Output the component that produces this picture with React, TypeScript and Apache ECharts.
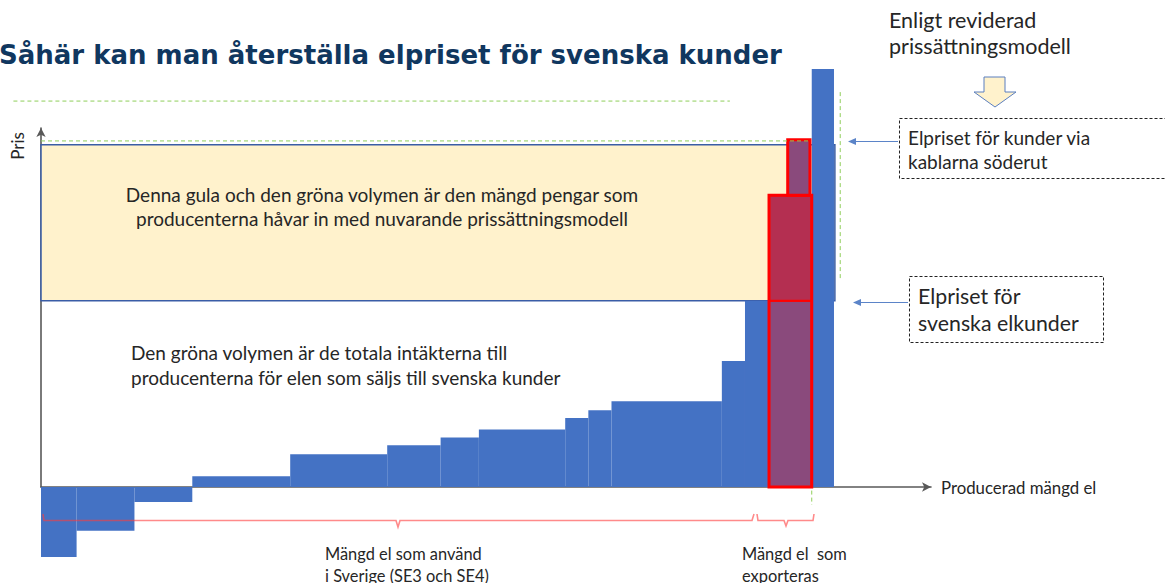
import React, { useEffect, useRef } from "react";
import * as echarts from "echarts";

// Merit-order steps (x range in volume units, price level)
const stepStart = [0, 4.0, 10.5, 17.0, 28.0, 38.9, 44.9, 49.2, 58.9, 61.5, 64.1, 76.5, 79.1];
const stepEnd = [4.0, 10.5, 17.0, 28.0, 38.9, 44.9, 49.2, 58.9, 61.5, 64.1, 76.5, 79.1, 81.8];
const stepPrice = [-19.5, -12.2, -4.2, 3.0, 9.1, 11.6, 13.8, 16.0, 19.2, 21.4, 23.9, 35.1, 51.9];

const exportRange = [81.8, 86.6];
const domesticPrice = 51.9;
const exportPrice = 81.3;
const cableRange = [83.9, 86.4];
const cablePrice = 96.7;
const peakRange = [86.6, 89.1];
const peakPrice = 116.4;
const currentModelRange = [0, 89.2];
const currentModelPrice = 95.3;

// guide lines [x0, y0, x1, y1]
const guideTop = [-3.1, 107.5, 77.4, 107.5];
const guideCable = [0, 96.4, 86.5, 96.4];
const guideVertical = [89.8, 110, 89.8, 57.9];
const guideExportEnd = [86.6, -1, 86.6, -5];

const BLUE = "#4472c4";
const RED = "#ff0000";
const TEXT = "#262626";
const FONT = "Lato";

export default function App() {
  const ref = useRef<HTMLDivElement>(null);

  useEffect(() => {
    if (!ref.current) return;
    const chart = echarts.init(ref.current, null, { renderer: "svg" });

    const styles: any[] = [
      { fill: "#fff2cc", stroke: "#3a5da6", lineWidth: 1.5 },
      { fill: BLUE },
      { fill: "#8a4a7c", stroke: RED, lineWidth: 2 },
      { fill: "#b42f51", stroke: RED, lineWidth: 2 },
      { fill: "none", stroke: RED, lineWidth: 3 },
      { fill: "#8a4a7c", stroke: RED, lineWidth: 3 },
    ];

    const rects: number[][] = [];
    rects.push([currentModelRange[0], currentModelRange[1], domesticPrice, currentModelPrice, 0]);
    for (let i = 0; i < stepStart.length; i++) {
      rects.push([stepStart[i], stepEnd[i], Math.min(0, stepPrice[i]), Math.max(0, stepPrice[i]), 1]);
    }
    rects.push([peakRange[0], peakRange[1], 0, peakPrice, 1]);
    rects.push([exportRange[0], exportRange[1], 0, domesticPrice, 2]);
    rects.push([exportRange[0], exportRange[1], domesticPrice, exportPrice, 3]);
    rects.push([exportRange[0], exportRange[1], 0, exportPrice, 4]);
    rects.push([cableRange[0], cableRange[1], exportPrice, cablePrice, 5]);

    const guides = [guideTop, guideCable, guideVertical, guideExportEnd];

    const Z = 50;

    const txt = (x: number, y: number, text: string, size: number, extra: any = {}) => ({
      type: "text",
      x,
      y,
      z: Z,
      silent: true,
      style: {
        text,
        fill: TEXT,
        font: `${size}px ${FONT}`,
        textAlign: "left",
        textVerticalAlign: "middle",
        align: "left",
        verticalAlign: "middle",
        lineHeight: extra.lineHeight || size * 1.4,
        ...extra.style,
      },
    });

    const arrowLeft = (x0: number, x1: number, y: number) => [
      { type: "line", z: Z, silent: true, shape: { x1: x0, y1: y, x2: x1 + 7, y2: y }, style: { stroke: "#5b84c8", lineWidth: 1.2 } },
      {
        type: "polygon",
        z: Z,
        silent: true,
        shape: { points: [[x1, y], [x1 + 8, y - 3.5], [x1 + 8, y + 3.5]] },
        style: { fill: "#5b84c8" },
      },
    ];

    const graphic: any[] = [
      {
        type: "text",
        x: -1,
        y: 55,
        z: Z,
        silent: true,
        style: {
          text: "Såhär kan man återställa elpriset för svenska kunder",
          fill: "#10375f",
          font: 'bold 26px "DejaVu Sans"',
          textVerticalAlign: "middle",
          verticalAlign: "middle",
        },
      },
      {
        type: "text",
        x: 17,
        y: 146,
        z: Z,
        rotation: Math.PI / 2,
        silent: true,
        style: {
          text: "Pris",
          fill: TEXT,
          font: `17px ${FONT}`,
          textAlign: "center",
          align: "center",
          textVerticalAlign: "middle",
          verticalAlign: "middle",
        },
      },
      txt(382, 206, "Denna gula och den gröna volymen är den mängd pengar som\nproducenterna håvar in med nuvarande prissättningsmodell", 19, {
        lineHeight: 24,
        style: { textAlign: "center", align: "center" },
      }),
      txt(131, 365, "Den gröna volymen är de totala intäkterna till\nproducenterna för elen som säljs till svenska kunder", 19, {
        lineHeight: 25,
      }),
      txt(889, 33, "Enligt reviderad\nprissättningsmodell", 21.5, { lineHeight: 26 }),
      {
        type: "polygon",
        z: Z,
        silent: true,
        shape: {
          points: [[984, 77], [1005, 77], [1005, 92], [1016, 92], [995, 107], [974, 92], [984, 92]],
        },
        style: { fill: "#fff2cc", stroke: "#5b7fbf", lineWidth: 1 },
      },
      {
        type: "rect",
        z: Z,
        silent: true,
        shape: { x: 899.5, y: 118.5, width: 275, height: 60 },
        style: { fill: "none", stroke: "#222", lineWidth: 1, lineDash: [3, 2] },
      },
      txt(908, 149, "Elpriset för kunder via\nkablarna söderut", 19, { lineHeight: 24 }),
      ...arrowLeft(898, 848, 141.5),
      {
        type: "rect",
        z: Z,
        silent: true,
        shape: { x: 909.5, y: 276.5, width: 194, height: 66 },
        style: { fill: "none", stroke: "#222", lineWidth: 1, lineDash: [3, 2] },
      },
      txt(918, 309, "Elpriset för\nsvenska elkunder", 21.3, { lineHeight: 27 }),
      ...arrowLeft(908, 853, 302.5),
      txt(941, 487, "Producerad mängd el", 16.8),
      txt(325, 564, "Mängd el som använd\ni Sverige (SE3 och SE4)", 16.4, { lineHeight: 22 }),
      txt(742, 564, "Mängd el  som\nexporteras", 16.4, { lineHeight: 22 }),
      {
        type: "polyline",
        z: Z,
        silent: true,
        shape: {
          points: [[43, 514], [44, 520.5], [396, 520.5], [398, 527], [400, 520.5], [752, 520.5], [754, 514]],
        },
        style: { stroke: "rgba(255,60,60,0.6)", lineWidth: 1.6, fill: "none" },
      },
      {
        type: "polyline",
        z: Z,
        silent: true,
        shape: {
          points: [[757, 514], [758, 520.5], [784, 520.5], [786, 526], [788, 520.5], [813, 520.5], [814, 514]],
        },
        style: { stroke: "rgba(255,60,60,0.6)", lineWidth: 1.6, fill: "none" },
      },
    ];

    const axisLine = {
      show: true,
      symbol: ["none", "arrow"],
      symbolSize: [7, 9],
      lineStyle: { color: "#595959", width: 1.6 },
    };

    chart.setOption({
      animation: false,
      grid: { left: 41, right: 234, top: 128, bottom: 96 },
      xAxis: {
        type: "value",
        min: 0,
        max: 100,
        axisLine,
        axisTick: { show: false },
        axisLabel: { show: false },
        splitLine: { show: false },
      },
      yAxis: {
        type: "value",
        min: 0,
        max: 100,
        axisLine,
        axisTick: { show: false },
        axisLabel: { show: false },
        splitLine: { show: false },
      },
      series: [
        {
          type: "custom",
          clip: false,
          data: rects,
          renderItem: (params: any, api: any) => {
            const x0 = api.value(0);
            const x1 = api.value(1);
            const y0 = api.value(2);
            const y1 = api.value(3);
            const k = api.value(4);
            const p0 = api.coord([x0, y1]);
            const p1 = api.coord([x1, y0]);
            return {
              type: "rect",
              shape: { x: p0[0], y: p0[1], width: p1[0] - p0[0], height: p1[1] - p0[1] },
              style: styles[k],
            };
          },
        },
        {
          type: "custom",
          clip: false,
          data: guides,
          renderItem: (params: any, api: any) => {
            const a = api.coord([api.value(0), api.value(1)]);
            const b = api.coord([api.value(2), api.value(3)]);
            return {
              type: "line",
              shape: { x1: a[0], y1: a[1], x2: b[0], y2: b[1] },
              style: { stroke: "#8fce5a", lineWidth: 1, lineDash: [4, 3] },
            };
          },
        },
      ],
      graphic,
    });

    return () => chart.dispose();
  }, []);

  return (
    <div
      ref={ref}
      style={{ position: "fixed", left: 0, top: 0, width: 1165, height: 583, background: "#fff" }}
    />
  );
}
